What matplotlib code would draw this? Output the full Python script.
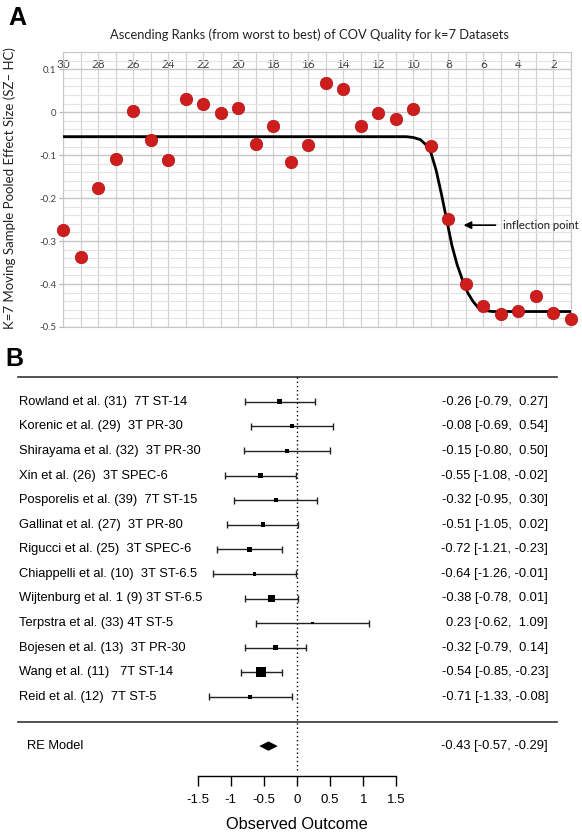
import numpy as np
import matplotlib.pyplot as plt
from matplotlib.ticker import MultipleLocator
from matplotlib.transforms import blended_transform_factory

plt.rcParams.update({
    'font.family': ['Liberation Sans', 'DejaVu Sans'],
    'font.size': 9,
    'axes.linewidth': 0.8,
})

# ---- panel A data: k=7 moving sample pooled effect size by COV rank
ranks = list(range(30, 0, -1))
pooled_es = [-0.274, -0.336, -0.176, -0.108, 0.002, -0.065, -0.112, 0.030, 0.018, -0.003,
             0.009, -0.075, -0.032, -0.116, -0.077, 0.067, 0.055, -0.032, -0.002, -0.015,
             0.008, -0.078, -0.249, -0.400, -0.450, -0.470, -0.463, -0.428, -0.467, -0.481]
rank_ticks = list(range(30, 1, -2))
es_ticks = [0.1, 0.0, -0.1, -0.2, -0.3, -0.4, -0.5]
es_tick_labels = ['0.1', '0', '-0.1', '-0.2', '-0.3', '-0.4', '-0.5']

# fitted sigmoid
fit_rank = [30, 10.4, 10.0, 9.6, 9.3, 9.0, 8.7, 8.4, 8.1, 7.8, 7.5, 7.2, 6.9, 6.6, 6.3, 6.0, 5.5, 1]
fit_es = [-0.057, -0.057, -0.059, -0.064, -0.075, -0.094, -0.135, -0.19, -0.25, -0.31,
          -0.355, -0.39, -0.42, -0.44, -0.455, -0.461, -0.464, -0.464]

inflection_es = -0.263

# ---- panel B data: forest plot
studies = [
    "Rowland et al. (31)  7T ST-14",
    "Korenic et al. (29)  3T PR-30",
    "Shirayama et al. (32)  3T PR-30",
    "Xin et al. (26)  3T SPEC-6",
    "Posporelis et al. (39)  7T ST-15",
    "Gallinat et al. (27)  3T PR-80",
    "Rigucci et al. (25)  3T SPEC-6",
    "Chiappelli et al. (10)  3T ST-6.5",
    "Wijtenburg et al. 1 (9) 3T ST-6.5",
    "Terpstra et al. (33) 4T ST-5",
    "Bojesen et al. (13)  3T PR-30",
    "Wang et al. (11)   7T ST-14",
    "Reid et al. (12)  7T ST-5",
]
effects = [-0.26, -0.08, -0.15, -0.55, -0.32, -0.51, -0.72, -0.64, -0.38, 0.23, -0.32, -0.54, -0.71]
ci_low = [-0.79, -0.69, -0.80, -1.08, -0.95, -1.05, -1.21, -1.26, -0.78, -0.62, -0.79, -0.85, -1.33]
ci_high = [0.27, 0.54, 0.50, -0.02, 0.30, 0.02, -0.23, -0.01, 0.01, 1.09, 0.14, -0.23, -0.08]
weights = [7.1, 4.3, 3.9, 7.1, 4.3, 5.7, 7.1, 3.2, 14.9, 2.1, 7.1, 28.8, 4.3]

re_est, re_low, re_high = -0.43, -0.57, -0.29
outcome_ticks = [-1.5, -1, -0.5, 0, 0.5, 1, 1.5]
outcome_labels = ['-1.5', '-1', '-0.5', '0', '0.5', '1', '1.5']

W, H = 582, 833
fig = plt.figure(figsize=(W / 100, H / 100), dpi=100)


def px_axes(left, top, right, bottom):
    return fig.add_axes([left / W, 1 - bottom / H, (right - left) / W, (bottom - top) / H])


def num(v):
    # R pads positive numbers with a space
    return "%.2f" % v if v < 0 else " %.2f" % v


def ci_text(e, lo, hi):
    return "%.2f [%s, %s]" % (e, "%.2f" % lo, num(hi))


# ================= panel A =================
excel_font = ['Lato', 'DejaVu Sans']
grey = '#404040'

ax = px_axes(63, 52, 571, 327)
ax.plot(fit_rank, fit_es, color='black', linewidth=2.0, zorder=3, solid_capstyle='round')
ax.scatter(ranks, pooled_es, s=80, color='#cd1d1d', edgecolors='#b31212', linewidths=0.5,
           zorder=4, clip_on=False)

ax.set_xlim(30, 1)
ax.set_ylim(-0.5, 0.14)
ax.xaxis.tick_top()
ax.set_xticks(rank_ticks)
ax.set_xticklabels([str(r) for r in rank_ticks], family=excel_font, fontsize=8.5, color=grey)
ax.xaxis.set_minor_locator(MultipleLocator(1))
ax.set_yticks(es_ticks)
ax.set_yticklabels(es_tick_labels, family=excel_font, fontsize=7, color=grey)
ax.yaxis.set_minor_locator(MultipleLocator(0.02))

ax.tick_params(axis='x', which='both', length=0, pad=-13)
ax.tick_params(axis='y', which='major', length=3, color='#b0b0b0', pad=2)
ax.tick_params(axis='y', which='minor', length=0)

ax.xaxis.grid(True, which='both', color='#d2d2d2', linewidth=0.9)
ax.yaxis.grid(True, which='major', color='#c6c6c6', linewidth=1.0)
ax.yaxis.grid(True, which='minor', color='#e4e4e4', linewidth=0.8)
ax.set_axisbelow(True)
for sp in ax.spines.values():
    sp.set_color('#c6c6c6')

ax.annotate('', xy=(7.29, inflection_es), xytext=(5.15, inflection_es),
            arrowprops=dict(arrowstyle='-|>', color='black', lw=1.2, mutation_scale=11))
ax.text(4.87, inflection_es, 'inflection point', family=excel_font, fontsize=8.2,
        color='#222222', ha='left', va='center', clip_on=False)

fig.text(309 / W, 1 - 35 / H, 'Ascending Ranks (from worst to best) of COV Quality for k=7 Datasets',
         family=excel_font, fontsize=9.3, color='#222222', ha='center', va='center')
fig.text(10 / W, 1 - 188 / H, 'K=7 Moving Sample Pooled Effect Size (SZ\u2013 HC)',
         family=excel_font, fontsize=9.5, color='#222222', rotation=90, ha='center', va='center')

fig.text(8 / W, 1 - 18 / H, 'A', fontsize=18, fontweight='bold', ha='left', va='center')
fig.text(5 / W, 1 - 359 / H, 'B', fontsize=18, fontweight='bold', ha='left', va='center')

# ================= panel B =================
# x: 0 at 297 px, 66.3 px per unit; y: row 0 at 401.7 px, 24.6 px per row
bx = px_axes(0, 340, 582, 833)
bx.set_xlim((0 - 297) / 66.3, (582 - 297) / 66.3)
bx.set_ylim((833 - 401.7) / 24.6, (340 - 401.7) / 24.6)
bt = blended_transform_factory(bx.transAxes, bx.transData)

rows = np.arange(len(studies))
n = len(studies)
top_line = -1.02
sep_line = n + 0.02
re_row = n + 1.0
axis_row = n + 2.22

bx.axhline(top_line, xmin=18 / W, xmax=557 / W, color='#333333', linewidth=1.2)
bx.axhline(sep_line, xmin=18 / W, xmax=557 / W, color='#333333', linewidth=1.2)
bx.vlines(0, top_line, axis_row - 0.15, colors='black', linestyles=(0, (1.0, 2.0)), linewidth=1.0)

bx.hlines(rows, ci_low, ci_high, colors='#222222', linewidth=1.0)
bx.vlines(ci_low, rows - 0.14, rows + 0.14, colors='#222222', linewidth=1.0)
bx.vlines(ci_high, rows - 0.14, rows + 0.14, colors='#222222', linewidth=1.0)
side_px = 1.85 * np.sqrt(weights)
bx.scatter(effects, rows, marker='s', s=(side_px * 0.72) ** 2, color='black', zorder=3, linewidths=0)

for i in range(n):
    bx.text(19 / W, rows[i], studies[i], transform=bt, ha='left', va='center', fontsize=9.3)
    bx.text(548 / W, rows[i], ci_text(effects[i], ci_low[i], ci_high[i]),
            transform=bt, ha='right', va='center', fontsize=9.3)

bx.fill([re_low, re_est, re_high, re_est], [re_row, re_row - 0.19, re_row, re_row + 0.19],
        color='black', linewidth=0)
bx.text(27 / W, re_row, 'RE Model', transform=bt, ha='left', va='center', fontsize=9.3)
bx.text(548 / W, re_row, ci_text(re_est, re_low, re_high), transform=bt, ha='right', va='center',
        fontsize=9.3)

for sp in ['top', 'left', 'right']:
    bx.spines[sp].set_visible(False)
bx.spines['bottom'].set_position(('data', axis_row))
bx.spines['bottom'].set_bounds(-1.5, 1.5)
bx.spines['bottom'].set_linewidth(1.0)
bx.set_xticks(outcome_ticks)
bx.set_xticklabels(outcome_labels)
bx.tick_params(axis='x', direction='out', length=7, width=1.0, labelsize=9.5, pad=6)
bx.yaxis.set_visible(False)
bx.patch.set_visible(False)
bx.text(0, axis_row + 1.98, 'Observed Outcome', ha='center', va='center', fontsize=11.8)

fig.savefig('out.png', dpi=100)
